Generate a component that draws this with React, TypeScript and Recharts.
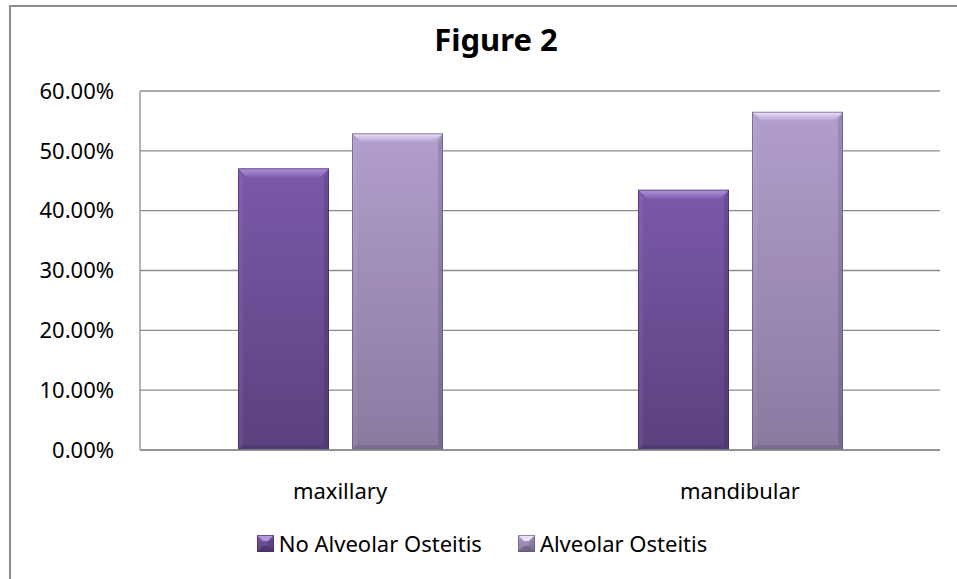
import React from "react";
import { BarChart, Bar, XAxis, YAxis, CartesianGrid, Legend } from "recharts";

const categories = ["maxillary", "mandibular"];
const noAlveolarOsteitis = [0.4706, 0.4348];
const alveolarOsteitis = [0.5294, 0.5652];
const yTicks = [0, 0.1, 0.2, 0.3, 0.4, 0.5, 0.6];
const seriesNames = ["No Alveolar Osteitis", "Alveolar Osteitis"];

const data = categories.map((c, i) => ({
  name: c,
  noAO: noAlveolarOsteitis[i],
  ao: alveolarOsteitis[i],
}));

const FONT = "'Noto Sans', 'Open Sans', sans-serif";
const GRID = "#8c8c8c";

type Palette = {
  id: string;
  top: string;
  bottom: string;
  bevelTop: string;
  bevelTop2: string;
  edge: string;
};

const dark: Palette = {
  id: "gDark",
  top: "#7b58a9",
  bottom: "#5b417f",
  bevelTop: "#b497dc",
  bevelTop2: "#7f5db0",
  edge: "#3e2b5a",
};
const light: Palette = {
  id: "gLight",
  top: "#b19ecd",
  bottom: "#8a7aa0",
  bevelTop: "#ece2f8",
  bevelTop2: "#b3a1d0",
  edge: "#5e5270",
};

function Bevel({ x, y, width, height, p }: { x: number; y: number; width: number; height: number; p: Palette }) {
  if (!height || height <= 0) return null;
  const b = Math.min(9, height / 2, width / 2);
  const s = Math.min(5, b);
  return (
    <g>
      <rect x={x} y={y} width={width} height={height} fill={`url(#${p.id})`} />
      <polygon
        points={`${x},${y} ${x + width},${y} ${x + width - b},${y + b} ${x + b},${y + b}`}
        fill={`url(#${p.id}T)`}
      />
      <polygon
        points={`${x},${y} ${x + s},${y + b} ${x + s},${y + height - s} ${x},${y + height}`}
        fill="#ffffff"
        fillOpacity={0.06}
      />
      <polygon
        points={`${x + width},${y} ${x + width - s},${y + b} ${x + width - s},${y + height - s} ${x + width},${y + height}`}
        fill="#000000"
        fillOpacity={0.12}
      />
      <polygon
        points={`${x},${y + height} ${x + s},${y + height - s} ${x + width - s},${y + height - s} ${x + width},${y + height}`}
        fill="#000000"
        fillOpacity={0.1}
      />
      <rect x={x + 0.5} y={y + 0.5} width={width - 1} height={height - 1} fill="none" stroke={p.edge} strokeOpacity={0.6} strokeWidth={1} />
    </g>
  );
}

const makeShape = (p: Palette) => (props: any) =>
  <Bevel x={props.x} y={props.y} width={props.width} height={props.height} p={p} />;

function Defs() {
  return (
    <defs>
      {[dark, light].map((p) => (
        <React.Fragment key={p.id}>
          <linearGradient id={p.id} x1="0" y1="0" x2="0" y2="1">
            <stop offset="0%" stopColor={p.top} />
            <stop offset="100%" stopColor={p.bottom} />
          </linearGradient>
          <linearGradient id={`${p.id}T`} x1="0" y1="0" x2="0" y2="1">
            <stop offset="0%" stopColor={p.bevelTop} />
            <stop offset="100%" stopColor={p.bevelTop2} />
          </linearGradient>
        </React.Fragment>
      ))}
    </defs>
  );
}

function LegendIcon({ p }: { p: Palette }) {
  return (
    <svg width={17} height={17} style={{ display: "block" }}>
      <defs>
        <linearGradient id={`${p.id}I`} x1="0" y1="0" x2="0" y2="1">
          <stop offset="0%" stopColor={p.top} />
          <stop offset="100%" stopColor={p.bottom} />
        </linearGradient>
      </defs>
      <rect x={0} y={0} width={17} height={17} fill={`url(#${p.id}I)`} />
      <polygon points="0,0 17,0 11,6 6,6" fill={p.bevelTop} />
      <polygon points="0,17 6,11 11,11 17,17" fill="#000" fillOpacity={0.2} />
      <polygon points="17,0 11,6 11,11 17,17" fill="#000" fillOpacity={0.12} />
      <rect x={0.5} y={0.5} width={16} height={16} fill="none" stroke={p.edge} strokeOpacity={0.6} />
    </svg>
  );
}

function LegendContent() {
  const pals = [dark, light];
  return (
    <div
      style={{
        display: "flex",
        justifyContent: "center",
        alignItems: "center",
        height: 46,
        paddingLeft: 24,
        fontFamily: FONT,
        fontSize: 22,
        color: "#000",
      }}
    >
      {seriesNames.map((n, i) => (
        <div key={n} style={{ display: "flex", alignItems: "center", marginRight: i === 0 ? 36 : 0 }}>
          <LegendIcon p={pals[i]} />
          <span style={{ marginLeft: 5, lineHeight: "22px" }}>{n}</span>
        </div>
      ))}
    </div>
  );
}

export default function App() {
  return (
    <div style={{ position: "absolute", left: 0, top: 0, width: 957, height: 579, background: "#fff", overflow: "hidden" }}>
      <div
        style={{
          position: "absolute",
          left: 9,
          top: 5,
          width: 980,
          height: 600,
          border: "2px solid #8c8c8c",
          boxSizing: "border-box",
        }}
      />
      <svg style={{ position: "absolute", left: 0, top: 0 }} width={957} height={80}>
        <text x={496} y={51} textAnchor="middle" fontFamily={FONT} fontWeight="bold" fontSize={31} fill="#000">
          Figure 2
        </text>
      </svg>
      <div style={{ position: "absolute", left: 0, top: 0 }}>
        <BarChart
          width={957}
          height={579}
          data={data}
          margin={{ top: 91, right: 17, bottom: 13, left: 0 }}
          barSize={91}
          barGap={23}
        >
          <Defs />
          <CartesianGrid vertical={false} stroke={GRID} strokeWidth={1.3} />
          <XAxis
            dataKey="name"
            height={70}
            tickSize={0}
            tickMargin={33}
            axisLine={{ stroke: GRID, strokeWidth: 1.3 }}
            tick={{ fill: "#000", fontSize: 22, fontFamily: FONT }}
          />
          <YAxis
            width={140}
            domain={[0, 0.6]}
            ticks={yTicks}
            interval={0}
            tickSize={0}
            tickMargin={26}
            axisLine={{ stroke: GRID, strokeWidth: 1.3 }}
            tickFormatter={(v: number) => (v * 100).toFixed(2) + "%"}
            tick={{ fill: "#000", fontSize: 22, fontFamily: FONT }}
          />
          <Legend verticalAlign="bottom" height={46} content={<LegendContent />} />
          <Bar dataKey="noAO" name={seriesNames[0]} isAnimationActive={false} shape={makeShape(dark)} />
          <Bar dataKey="ao" name={seriesNames[1]} isAnimationActive={false} shape={makeShape(light)} />
        </BarChart>
      </div>
    </div>
  );
}
